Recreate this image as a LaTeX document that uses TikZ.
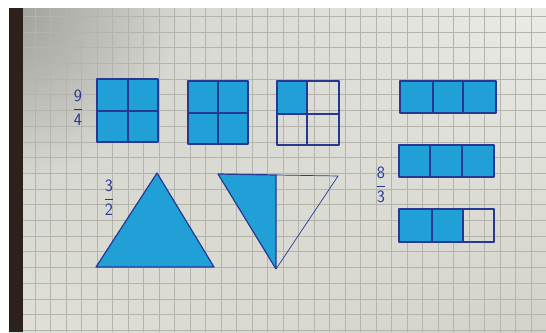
\documentclass[tikz,border=0pt]{standalone}
\usetikzlibrary{calc,shadings,fadings}
\definecolor{racs}{RGB}{180,180,173}
\definecolor{toll}{RGB}{38,56,145}
\definecolor{tinta}{RGB}{32,160,214}
\definecolor{sav}{RGB}{45,34,27}
\definecolor{papirA}{RGB}{205,206,200}
\definecolor{papirB}{RGB}{236,236,231}
\definecolor{papirC}{RGB}{224,224,217}
\definecolor{papirD}{RGB}{210,210,202}
\tikzfading[name=sarok,inner color=transparent!0,outer color=transparent!100]
\tikzset{
  kek/.style={fill=tinta},
  hatar/.style={draw=toll,line width=1.2pt,line join=round},
  vekony/.style={draw=toll,line width=0.7pt},
  racsvonal/.style={draw=racs,line width=0.5pt},
  tort/.style={text=toll,inner sep=0pt,font=\fontsize{19}{19}\selectfont},
}

\begin{document}
\begin{tikzpicture}[x=1pt,y=-1pt]
  \useasboundingbox (0,0) rectangle (546,332);
  \fill[white] (0,0) rectangle (546,332);
  % papír
  \shade[upper left=papirA,upper right=papirB,lower left=papirC,lower right=papirD]
    (9,8) rectangle (546,332);
  \begin{scope}
    \clip (9,8) rectangle (546,332);
    \fill[black!60,opacity=0.45,path fading=sarok] (9,8) circle (170);
  \end{scope}
  \foreach \i in {-4,...,29} {\draw[racsvonal] ({97+15.5*\i},8) -- ({97+15.5*\i},332);}
  \foreach \j in {-4,...,16} {\draw[racsvonal] (23,{79+15.7*\j}) -- (546,{79+15.7*\j});}
  \fill[sav] (9,8) rectangle (23,332);

  % 9/4
  \node[tort] (n94) at (78,108) {$\displaystyle\frac{\mathsf{9}}{\mathsf{4}}$};
  \fill[kek] (97,79) rectangle (158,142);
  \draw[hatar] (97,79) rectangle (158,142) (128,79) -- (128,142) (97,111) -- (158,111);
  \fill[kek] (188,81) rectangle (248,144);
  \draw[hatar] (188,81) rectangle (248,144) (218,81) -- (218,144) (188,113) -- (248,113);
  \fill[kek] (277,81) rectangle (307,114);
  \draw[hatar] (277,81) rectangle (339,145) (307,81) -- (307,145) (277,114) -- (339,114);

  % 3/2
  \node[tort] (n32) at (109,198) {$\displaystyle\frac{\mathsf{3}}{\mathsf{2}}$};
  \fill[kek] (157,173) -- (96,267) -- (214,267) -- cycle;
  \draw[hatar] (157,173) -- (96,267) -- (214,267) -- cycle;
  \fill[kek] (218,174) -- (276,175) -- (276,269) -- cycle;
  \draw[hatar] (276,269) -- (218,174) -- (276,175) -- (276,269);
  \draw[vekony] (276,175) -- (338,176) -- (276,269);

  % 8/3
  \node[tort] (n83) at (381,185) {$\displaystyle\frac{\mathsf{8}}{\mathsf{3}}$};
  \fill[kek] (400,81) rectangle (496,113);
  \draw[hatar] (400,81) rectangle (496,113) (433,81) -- (433,113) (463,81) -- (463,113);
  \fill[kek] (399,145) rectangle (494,177);
  \draw[hatar] (399,145) rectangle (494,177) (430,145) -- (430,177) (462,145) -- (462,177);
  \fill[kek] (399,209) rectangle (463,242);
  \draw[hatar] (399,209) rectangle (494,242) (432,209) -- (432,242) (463,209) -- (463,242);
\end{tikzpicture}
\end{document}
